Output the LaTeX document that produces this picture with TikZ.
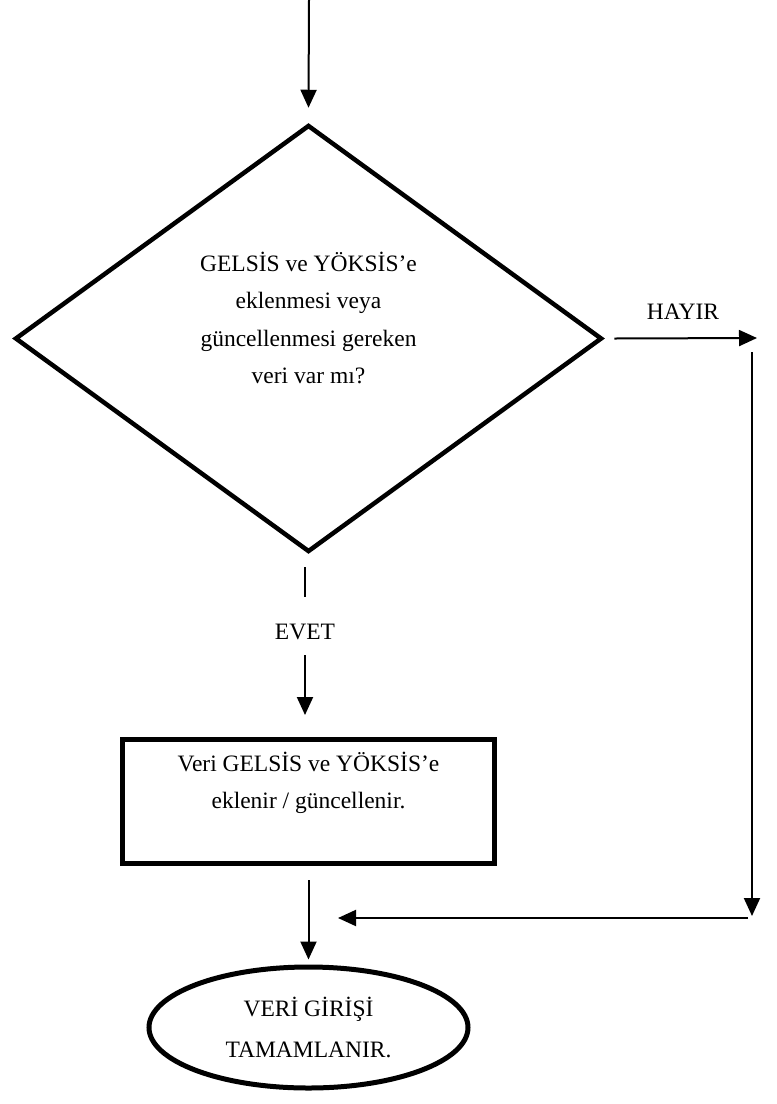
\documentclass[tikz,border=0pt]{standalone}
\usepackage{fontspec}
\setmainfont{Liberation Serif}
\usetikzlibrary{shapes.geometric,arrows.meta}
\begin{document}
\begin{tikzpicture}[x=1pt,y=-1pt,
  thinline/.style={line width=2pt},
  arr/.style={thinline,-{Triangle[length=18pt,width=16pt]}},
  txt/.style={font=\fontsize{23.5}{37.5}\selectfont, align=center, inner sep=0pt},
  dec/.style={draw, diamond, line width=4.5pt, minimum width=587pt, minimum height=427pt, inner sep=0pt},
  procbox/.style={draw, rectangle, line width=5.5pt, minimum width=372pt, minimum height=124pt, inner sep=0pt},
  term/.style={draw, ellipse, line width=5pt, minimum width=319pt, minimum height=121pt, inner sep=0pt,
    font=\fontsize{23.5}{41}\selectfont, align=center}
]
\useasboundingbox (0,0) rectangle (777,1104);

% nodes
\node[dec] (q) at (308.5,338.5) {};
\node[txt] (qt) at (308.5,318) {GELSİS ve YÖKSİS’e\\eklenmesi veya\\güncellenmesi gereken\\veri var mı?};
\node[txt] (hayir) at (683,312) {HAYIR};
\node[txt] (evet) at (305,632) {EVET};
\node[procbox] (b) at (308.5,801.5) {};
\node[txt, font=\fontsize{23.5}{37}\selectfont] (bt) at (308.5,783) {Veri GELSİS ve YÖKSİS’e\\eklenir / güncellenir.};
\node[term] (end) at (308.5,1027.5) {VERİ GİRİŞİ\\TAMAMLANIR.};

% coordinates
\coordinate (start) at (309,0);
\coordinate (hy) at (757,338);
\coordinate (rt) at (752,352);
\coordinate (rb) at (752,916);
\coordinate (bl) at (748,918);
\coordinate (br) at (338,918);
\coordinate (e1) at (305,567);
\coordinate (e2) at (305,597);
\coordinate (e3) at (305,655);
\coordinate (e4) at (305,715);

% connectors
\draw[arr] (start) -- ([yshift=15pt]q.north);
\draw[arr] ([xshift=10pt]q.east) -- (hy);
\draw[arr] (rt) -- (rb);
\draw[arr] (bl) -- (br);
\draw[thinline] (e1) -- (e2);
\draw[arr] (e3) -- (e4);
\draw[arr] ([yshift=-14pt]b.south) -- ([yshift=5pt]end.north);
\end{tikzpicture}
\end{document}
